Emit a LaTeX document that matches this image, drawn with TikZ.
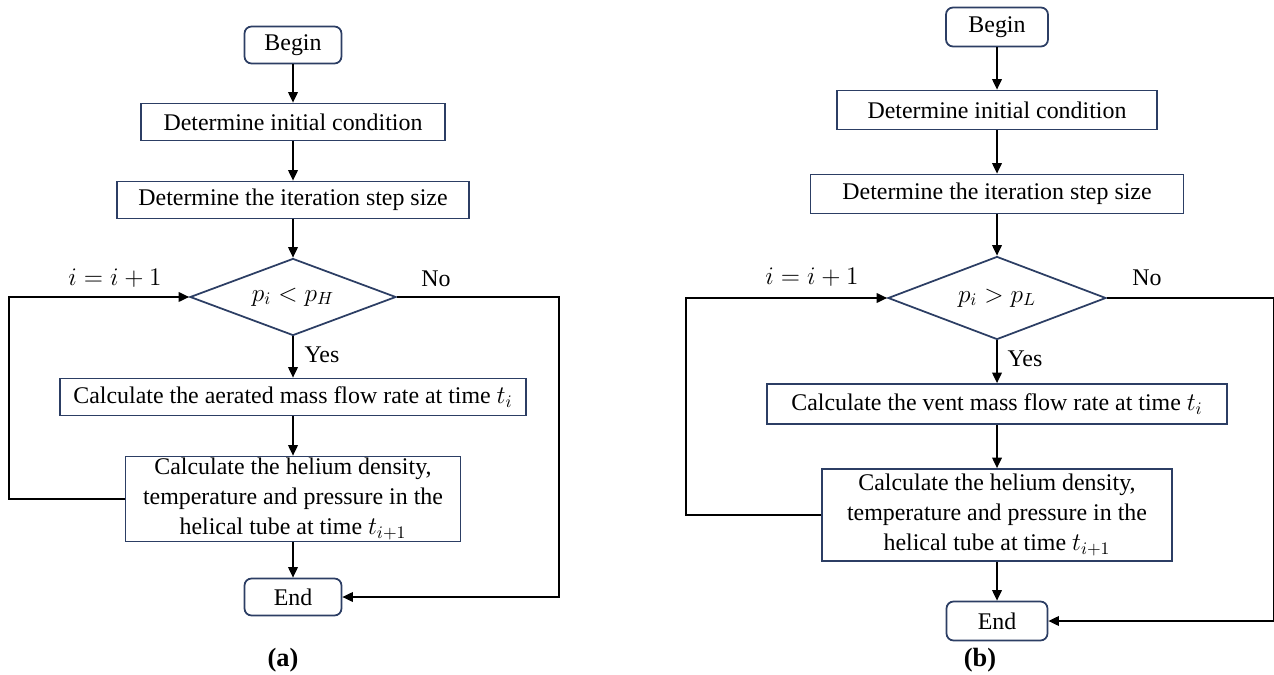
\documentclass[tikz,border=0pt]{standalone}
\usepackage{amsmath}
\usepackage{fontspec}
\setmainfont{Liberation Serif}
\usetikzlibrary{arrows.meta,positioning,shapes.geometric}
\definecolor{boxnavy}{RGB}{44,62,100}

\begin{document}
\begin{tikzpicture}[x=0.02cm, y=-0.02cm,
  every node/.style={font=\fontsize{13.6}{17}\selectfont},
  term/.style={rectangle, rounded corners=4pt, draw=boxnavy, line width=1pt, inner sep=0pt},
  proc/.style={rectangle, draw=boxnavy, line width=1pt, inner sep=0pt, align=center},
  decide/.style={diamond, aspect=2.7, draw=boxnavy, line width=1pt, inner sep=0pt},
  flow/.style={draw=black, line width=0.9pt},
  arr/.style={flow, -{Triangle[length=6pt,width=5.5pt]}}]
\useasboundingbox (0,0) rectangle (1274,675);

% (a) aeration
\node[term, minimum width=1.94cm, minimum height=0.74cm] (beginA) at (293,45) {Begin};
\node[proc, minimum width=6.08cm, minimum height=0.74cm] (initA) at (293,122) {Determine initial condition};
\node[proc, minimum width=7.04cm, minimum height=0.74cm] (stepA) at (293,200) {Determine the iteration step size};
\node[decide, minimum width=4.12cm, minimum height=1.54cm] (decA) at (293,297) {$p_i < p_H$};
\node[proc, minimum width=9.32cm, minimum height=0.74cm] (aerA) at (293,397) {Calculate the aerated mass flow rate at time $t_i$};
\node[proc, minimum width=6.7cm, minimum height=1.7cm] (helA) at (293,499)
  {Calculate the helium density,\\temperature and pressure in the\\helical tube at time $t_{i+1}$};
\node[term, minimum width=1.94cm, minimum height=0.74cm] (endA) at (293,597) {End};
\coordinate (backA) at (9,499);
\coordinate (noA) at (559,297);
\draw[arr] (beginA) -- (initA);
\draw[arr] (initA) -- (stepA);
\draw[arr] (stepA) -- (decA);
\draw[arr] (decA) -- (aerA);
\draw[arr] (aerA) -- (helA);
\draw[arr] (helA) -- (endA);
\draw[arr] (helA.west) -- (backA) |- (decA.west);
\draw[arr] (decA.east) -- (noA) |- (endA.east);
\node (incA) at (115,278) {$i = i + 1$};
\node (noLabA) at (436,279) {No};
\node (yesA) at (322,355) {Yes};
\node[font=\fontsize{15}{18}\selectfont\bfseries] (capA) at (283,660) {(a)};

% (b) venting
\node[term, minimum width=2.04cm, minimum height=0.78cm] (beginB) at (997,27) {Begin};
\node[proc, minimum width=6.4cm, minimum height=0.78cm] (initB) at (997,110) {Determine initial condition};
\node[proc, minimum width=7.46cm, minimum height=0.78cm] (stepB) at (997,194) {Determine the iteration step size};
\node[decide, minimum width=4.36cm, minimum height=1.66cm] (decB) at (997,298) {$p_i > p_L$};
\node[proc, minimum width=9.2cm, minimum height=0.8cm] (ventB) at (997,404) {Calculate the vent mass flow rate at time $t_i$};
\node[proc, minimum width=7.0cm, minimum height=1.84cm] (helB) at (997,515)
  {Calculate the helium density,\\temperature and pressure in the\\helical tube at time $t_{i+1}$};
\node[term, minimum width=2.02cm, minimum height=0.78cm] (endB) at (997,621) {End};
\coordinate (backB) at (686,515);
\coordinate (noB) at (1274,298);
\draw[arr] (beginB) -- (initB);
\draw[arr] (initB) -- (stepB);
\draw[arr] (stepB) -- (decB);
\draw[arr] (decB) -- (ventB);
\draw[arr] (ventB) -- (helB);
\draw[arr] (helB) -- (endB);
\draw[arr] (helB.west) -- (backB) |- (decB.west);
\draw[arr] (decB.east) -- (noB) |- (endB.east);
\node (incB) at (812,277) {$i = i + 1$};
\node (noLabB) at (1147,278) {No};
\node (yesB) at (1025,359) {Yes};
\node[font=\fontsize{15}{18}\selectfont\bfseries] (capB) at (980,660) {(b)};
\end{tikzpicture}
\end{document}
